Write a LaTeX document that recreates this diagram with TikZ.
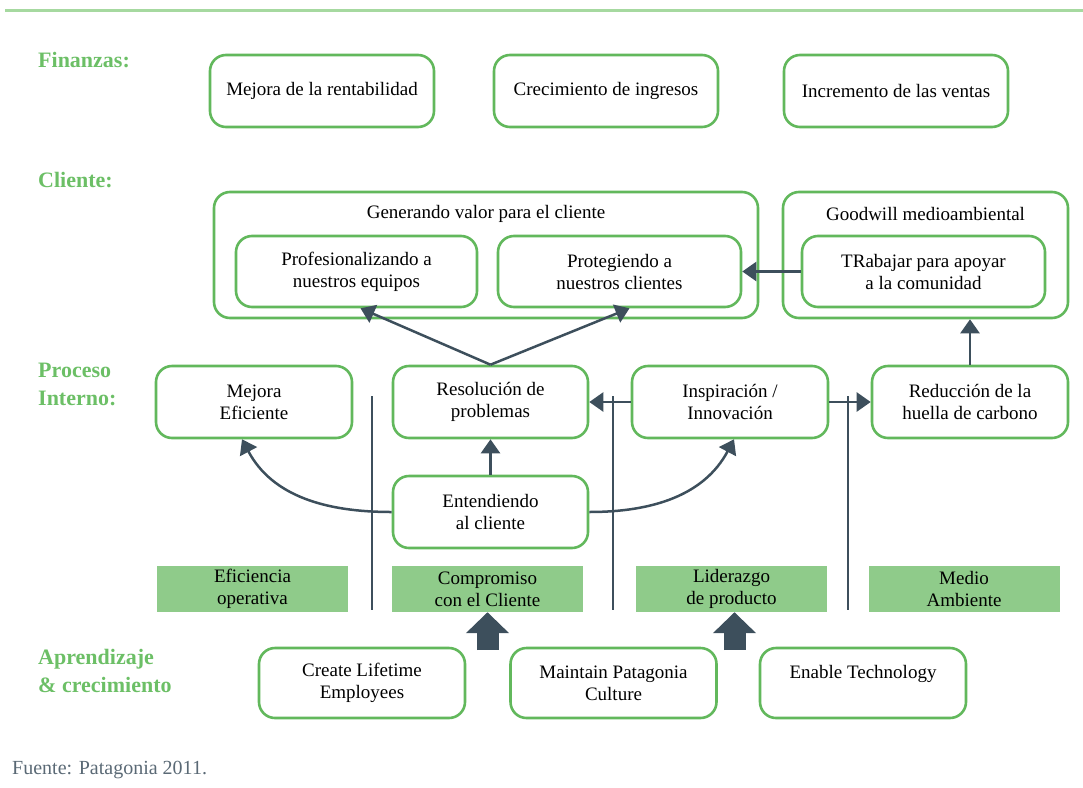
\documentclass[tikz,border=0pt]{standalone}
\usepackage{fontspec}
\setmainfont{Liberation Serif}
\usetikzlibrary{arrows.meta,calc}

\definecolor{boxgreen}{HTML}{62B85C}
\definecolor{headgreen}{HTML}{6CBF66}
\definecolor{fillgreen}{HTML}{8FCB8A}
\definecolor{slate}{HTML}{3D4F5C}
\definecolor{linegreen}{HTML}{A6D9A0}

\begin{document}
\begin{tikzpicture}[x=1pt,y=-1pt,
    box/.style={draw=boxgreen, line width=2.6pt, rounded corners=16pt, fill=white,
        align=center, inner sep=0pt, font=\fontsize{19}{22}\selectfont},
    persp/.style={fill=fillgreen, minimum width=191pt, minimum height=46pt,
        align=center, inner sep=0pt, font=\fontsize{19}{22}\selectfont},
    heading/.style={anchor=west, align=left, text=headgreen, inner sep=0pt,
        font=\fontsize{22}{28}\selectfont\bfseries},
    conn/.style={draw=slate, line width=2.5pt, -{Triangle[width=19pt,length=14pt]}},
    sep/.style={draw=slate, line width=2.5pt},
    bigarrow/.style={draw=slate, line width=22pt, -{Triangle[width=42pt,length=21pt]}}]
        % Page area in pixels
        \def\picWidth{1083}
        \def\picHeight{787}
        \useasboundingbox (0,0) rectangle (\picWidth,\picHeight);

        % Top rule
        \draw[linegreen, line width=3pt] (5,10) -- (\picWidth,10);

        % Perspective headings
        \node[heading] (hfin) at (38,60) {Finanzas:};
        \node[heading] (hcli) at (38,180) {Cliente:};
        \node[heading] (hproc) at (38,384) {Proceso\\Interno:};
        \node[heading] (hapr) at (38,671) {Aprendizaje\\\& crecimiento};

        % Finanzas
        \node[box, minimum width=224pt, minimum height=72pt] (rentab) at (322,91) {Mejora de la rentabilidad};
        \node[box, minimum width=224pt, minimum height=72pt] (ingresos) at (606,91) {Crecimiento de ingresos};
        \node[box, minimum width=224pt, minimum height=72pt] (ventas) at (896,91) {Incremento de las ventas};

        % Cliente
        \node[box, minimum width=544pt, minimum height=126pt] (genvalor) at (486,255) {};
        \node[font=\fontsize{19}{22}\selectfont] (genvalorT) at (486,214) {Generando valor para el cliente};
        \node[box, minimum width=241pt, minimum height=71pt] (profes) at (356.5,271.5) {Profesionalizando a\\nuestros equipos};
        \node[box, minimum width=243pt, minimum height=71pt] (proteg) at (619.5,271.5) {Protegiendo a\\nuestros clientes};
        \node[box, minimum width=285pt, minimum height=126pt] (goodwill) at (925.5,255) {};
        \node[font=\fontsize{19}{22}\selectfont] (goodwillT) at (925.5,214) {Goodwill medioambiental};
        \node[box, minimum width=243pt, minimum height=71pt] (trabajar) at (923.5,271.5) {TRabajar para apoyar\\a la comunidad};

        % Proceso interno
        \node[box, minimum width=196pt, minimum height=72pt] (mejoraEf) at (254,402) {Mejora\\Eficiente};
        \node[box, minimum width=195pt, minimum height=72pt] (resol) at (490.5,402) {Resolución de\\problemas};
        \node[box, minimum width=196pt, minimum height=72pt] (inspir) at (730,402) {Inspiración /\\Innovación};
        \node[box, minimum width=196pt, minimum height=72pt] (huella) at (970,402) {Reducción de la\\huella de carbono};

        % Separators between the columns
        \foreach \x in {372,613,848} {
            \draw[sep] (\x,396) -- (\x,610);
        }

        \node[box, minimum width=195pt, minimum height=72pt] (entend) at (490.5,512) {Entendiendo\\al cliente};

        % Strategic themes
        \node[persp] (eficiencia) at (252.5,589) {Eficiencia\\operativa};
        \node[persp] (compromiso) at (487.5,589) {Compromiso\\con el Cliente};
        \node[persp] (liderazgo) at (731.5,589) {Liderazgo\\de producto};
        \node[persp] (medio) at (964,589) {Medio\\Ambiente};

        % Aprendizaje y crecimiento
        \node[box, minimum width=206pt, minimum height=70pt] (lifetime) at (362,683) {Create Lifetime\\Employees};
        \node[box, minimum width=206pt, minimum height=70pt] (cultura) at (613.5,683) {Maintain Patagonia\\Culture};
        \node[box, minimum width=206pt, minimum height=70pt] (tecno) at (863,683) {Enable Technology\\~};

        % Connectors
        \draw[conn] (trabajar.west) -- (proteg.east);
        \draw[conn] (resol.north) -- ($(profes.south)+(4,0)$);
        \draw[conn] (resol.north) -- ($(proteg.south)+(10,0)$);
        \draw[conn] (huella.north) -- (huella.north |- goodwill.south);
        \draw[conn] (inspir.west) -- (resol.east);
        \draw[conn] (inspir.east) -- (huella.west);
        \draw[conn] (entend.north) -- (resol.south);
        \draw[conn] (entend.west) to[out=180,in=-62] ($(mejoraEf.south)+(-12,0)$);
        \draw[conn] (entend.east) to[out=0,in=-118] ($(inspir.south)+(4,0)$);

        % Block arrows into the themes
        \draw[bigarrow] ($(compromiso.south)+(0,38)$) -- (compromiso.south);
        \draw[bigarrow] ($(liderazgo.south)+(3,38)$) -- ($(liderazgo.south)+(3,0)$);

        % Source
        \node[anchor=west, inner sep=0pt, text=slate!85, font=\fontsize{20}{24}\selectfont] (fuente) at (12,770) {Fuente: Patagonia 2011.};

    \end{tikzpicture}
\end{document}
